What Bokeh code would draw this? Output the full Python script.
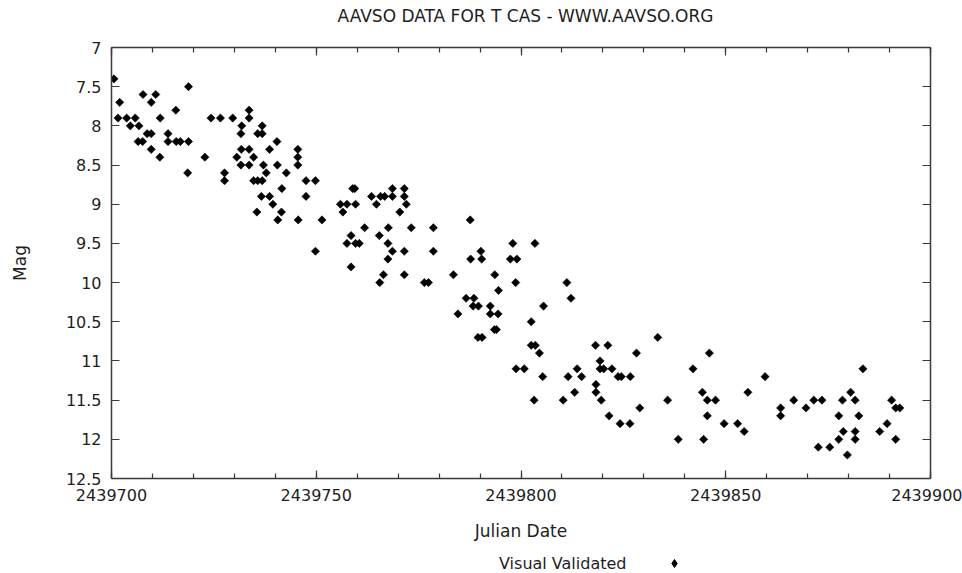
import numpy as np
from bokeh.plotting import figure
from bokeh.layouts import column
from bokeh.models import (Range1d, LinearAxis, SingleIntervalTicker, NumeralTickFormatter,
                          Legend, LegendItem, ColumnDataSource, CustomLabelingPolicy, Label)
from bokeh.embed import file_html
from bokeh.resources import INLINE

title_text = "AAVSO DATA FOR T CAS - WWW.AAVSO.ORG"
x_label = "Julian Date"
y_label = "Mag"
series_name = "Visual Validated"

jd = [
    2439700.6, 2439702.0, 2439707.7, 2439709.7, 2439710.8, 2439718.8, 2439701.6, 2439703.7,
    2439705.8, 2439704.6, 2439706.7, 2439711.9, 2439715.7, 2439708.7, 2439709.7, 2439706.5,
    2439707.6, 2439709.7, 2439711.8, 2439713.8, 2439713.8, 2439715.8, 2439716.8, 2439718.8,
    2439718.6, 2439722.8, 2439724.3, 2439726.6, 2439729.6, 2439727.6, 2439727.6, 2439733.6,
    2439733.6, 2439731.8, 2439731.6, 2439731.7, 2439733.6, 2439730.6, 2439734.7, 2439731.6,
    2439733.6, 2439736.8, 2439735.7, 2439736.8, 2439740.4, 2439738.6, 2439737.1, 2439740.5,
    2439737.8, 2439742.7, 2439734.7, 2439735.7, 2439736.8, 2439741.6, 2439736.6, 2439738.6,
    2439739.4, 2439735.5, 2439741.5, 2439740.6, 2439745.6, 2439745.5, 2439745.5, 2439745.5,
    2439747.5, 2439749.8, 2439747.5, 2439749.8, 2439751.4, 2439758.9, 2439759.4, 2439763.5,
    2439765.7, 2439766.7, 2439768.6, 2439768.6, 2439771.5, 2439771.5, 2439755.9, 2439757.5,
    2439759.6, 2439764.7, 2439772.0, 2439756.5, 2439770.4, 2439761.8, 2439767.6, 2439773.2,
    2439778.6, 2439787.6, 2439758.5, 2439765.4, 2439757.5, 2439759.6, 2439760.5, 2439767.5,
    2439768.6, 2439771.5, 2439778.6, 2439767.5, 2439758.5, 2439766.4, 2439765.5, 2439771.5,
    2439776.4, 2439777.4, 2439783.5, 2439787.7, 2439790.2, 2439790.4, 2439798.0, 2439797.4,
    2439799.0, 2439793.6, 2439794.5, 2439798.7, 2439803.4, 2439811.2, 2439812.2, 2439786.6,
    2439788.5, 2439788.3, 2439789.6, 2439784.6, 2439792.5, 2439792.5, 2439794.4, 2439793.5,
    2439794.0, 2439805.5, 2439802.5, 2439789.5, 2439790.5, 2439802.5, 2439803.5, 2439804.5,
    2439798.8, 2439800.8, 2439805.3, 2439803.2, 2439818.2, 2439821.2, 2439819.3, 2439819.3,
    2439820.2, 2439822.2, 2439813.7, 2439811.5, 2439814.8, 2439818.3, 2439818.3, 2439813.1,
    2439810.3, 2439819.6, 2439821.5, 2439824.2, 2439833.4, 2439828.2, 2439846.0, 2439842.0,
    2439823.7, 2439824.5, 2439826.7, 2439859.6, 2439844.3, 2439855.4, 2439835.8, 2439845.5,
    2439847.5, 2439866.6, 2439829.0, 2439863.4, 2439845.5, 2439863.4, 2439826.6, 2439849.6,
    2439852.9, 2439854.5, 2439838.4, 2439844.6, 2439883.5, 2439880.5, 2439871.5, 2439873.5,
    2439878.5, 2439881.6, 2439890.5, 2439869.6, 2439891.5, 2439892.5, 2439877.6, 2439882.5,
    2439878.7, 2439881.6, 2439887.6, 2439889.4, 2439877.6, 2439881.6, 2439891.5, 2439872.6,
    2439875.4, 2439879.7,
]

mag = [
    7.4, 7.7, 7.6, 7.7, 7.6, 7.5, 7.9, 7.9,
    7.9, 8.0, 8.0, 7.9, 7.8, 8.1, 8.1, 8.2,
    8.2, 8.3, 8.4, 8.1, 8.2, 8.2, 8.2, 8.2,
    8.6, 8.4, 7.9, 7.9, 7.9, 8.6, 8.7, 7.8,
    7.9, 8.0, 8.1, 8.3, 8.3, 8.4, 8.4, 8.5,
    8.5, 8.0, 8.1, 8.1, 8.2, 8.3, 8.5, 8.5,
    8.6, 8.6, 8.7, 8.7, 8.7, 8.8, 8.9, 8.9,
    9.0, 9.1, 9.1, 9.2, 9.2, 8.3, 8.4, 8.5,
    8.7, 8.7, 8.9, 9.6, 9.2, 8.8, 8.8, 8.9,
    8.9, 8.9, 8.9, 8.8, 8.8, 8.9, 9.0, 9.0,
    9.0, 9.0, 9.0, 9.1, 9.1, 9.3, 9.3, 9.3,
    9.3, 9.2, 9.4, 9.4, 9.5, 9.5, 9.5, 9.5,
    9.6, 9.6, 9.6, 9.7, 9.8, 9.9, 10.0, 9.9,
    10.0, 10.0, 9.9, 9.7, 9.6, 9.7, 9.5, 9.7,
    9.7, 9.9, 10.1, 10.0, 9.5, 10.0, 10.2, 10.2,
    10.2, 10.3, 10.3, 10.4, 10.3, 10.4, 10.4, 10.6,
    10.6, 10.3, 10.5, 10.7, 10.7, 10.8, 10.8, 10.9,
    11.1, 11.1, 11.2, 11.5, 10.8, 10.8, 11.0, 11.1,
    11.1, 11.1, 11.1, 11.2, 11.2, 11.3, 11.4, 11.4,
    11.5, 11.5, 11.7, 11.8, 10.7, 10.9, 10.9, 11.1,
    11.2, 11.2, 11.2, 11.2, 11.4, 11.4, 11.5, 11.5,
    11.5, 11.5, 11.6, 11.6, 11.7, 11.7, 11.8, 11.8,
    11.8, 11.9, 12.0, 12.0, 11.1, 11.4, 11.5, 11.5,
    11.5, 11.5, 11.5, 11.6, 11.6, 11.6, 11.7, 11.7,
    11.9, 11.9, 11.9, 11.8, 12.0, 12.0, 12.0, 12.1,
    12.1, 12.2,
]

x_start, x_end = 2439700, 2439900
y_bottom, y_top = 12.5, 7

FONT = "DejaVu Sans"
TXT = "#1e1e1e"
AX = "#3a3a3a"

src = ColumnDataSource(data=dict(jd=jd, mag=mag))


def strip(h):
    f = figure(width=962, height=h, output_backend="svg", toolbar_location=None,
               x_range=Range1d(0, 1), y_range=Range1d(0, 1), x_axis_type=None, y_axis_type=None,
               min_border=0, min_border_left=0, min_border_right=0, min_border_top=0,
               min_border_bottom=0)
    f.outline_line_color = None
    f.grid.visible = False
    f.border_fill_color = "white"
    f.background_fill_color = "white"
    return f


# ---- title strip (30 px) ----
t = strip(30)
t.add_layout(Label(x=414, y=15, x_units="screen", y_units="screen", text=title_text,
                   text_align="center", text_baseline="middle", text_font=FONT,
                   text_font_size="17px", text_color=TXT))

# ---- main chart ----
p = figure(width=962, height=518, output_backend="svg", toolbar_location=None,
           x_range=Range1d(x_start, x_end), y_range=Range1d(y_bottom, y_top),
           x_axis_type=None, y_axis_type=None,
           min_border_left=111, min_border_right=32, min_border_top=17, min_border_bottom=70)
p.outline_line_color = None
p.grid.visible = False
p.background_fill_color = "white"
p.border_fill_color = "white"

xt = SingleIntervalTicker(interval=50, num_minor_ticks=5)
yt = SingleIntervalTicker(interval=0.5, num_minor_ticks=0)

no_labels = CustomLabelingPolicy(code="for (const i of indices) { indices.unset(i) }\nreturn indices")


def style(ax, labels):
    ax.axis_line_color = AX
    ax.axis_line_width = 1.5
    ax.major_tick_in = 8
    ax.major_tick_out = 0
    ax.minor_tick_in = 5
    ax.minor_tick_out = 0
    ax.major_tick_line_color = AX
    ax.minor_tick_line_color = AX
    ax.major_tick_line_width = 1.2
    ax.minor_tick_line_width = 1.2
    ax.major_label_text_font = FONT
    ax.major_label_text_color = TXT
    if labels:
        ax.major_label_text_font_size = "16px"
        ax.major_label_standoff = 10
    else:
        ax.major_label_text_font_size = "1px"
        ax.major_label_standoff = 0
        ax.major_label_policy = no_labels
    ax.axis_label_text_font = FONT
    ax.axis_label_text_font_style = "normal"
    ax.axis_label_text_color = TXT
    ax.axis_label_text_font_size = "17px"


xb = LinearAxis(ticker=xt, formatter=NumeralTickFormatter(format="0"), axis_label=x_label)
style(xb, True)
xb.axis_label_standoff = 17
p.add_layout(xb, "below")

xa = LinearAxis(ticker=xt, formatter=NumeralTickFormatter(format="0"))
style(xa, False)
p.add_layout(xa, "above")

yl = LinearAxis(ticker=yt, formatter=NumeralTickFormatter(format="0.[0]"), axis_label=y_label)
style(yl, True)
yl.axis_label_standoff = 33
p.add_layout(yl, "left")

yr = LinearAxis(ticker=yt, formatter=NumeralTickFormatter(format="0.[0]"))
style(yr, False)
p.add_layout(yr, "right")

pts = p.scatter(x="jd", y="mag", source=src, marker="square", angle=np.pi / 4, size=5.8,
                fill_color="black", line_color="black", line_width=0.6)

# ---- key strip (25 px): label first, then the diamond key, as in the reference ----
k = strip(25)
blank = k.scatter(x=[], y=[], marker="square", size=1, fill_alpha=0, line_alpha=0)
# same series drawn in the strip only to supply the key glyph (falls outside the strip's ranges)
key = k.scatter(x="jd", y="mag", source=src, marker="diamond", size=9,
                fill_color="black", line_color="black")

legend = Legend(items=[LegendItem(label=series_name, renderers=[blank]),
                       LegendItem(label=" ", renderers=[key])],
                orientation="horizontal", location=(363, 0), padding=0, margin=0, spacing=38,
                glyph_width=20, glyph_height=20, label_standoff=5,
                border_line_color=None, background_fill_alpha=0,
                label_text_font=FONT, label_text_font_size="16px", label_text_color=TXT)
k.add_layout(legend)

layout = column(t, p, k, spacing=0)
open("out.html", "w").write(file_html(layout, INLINE))
